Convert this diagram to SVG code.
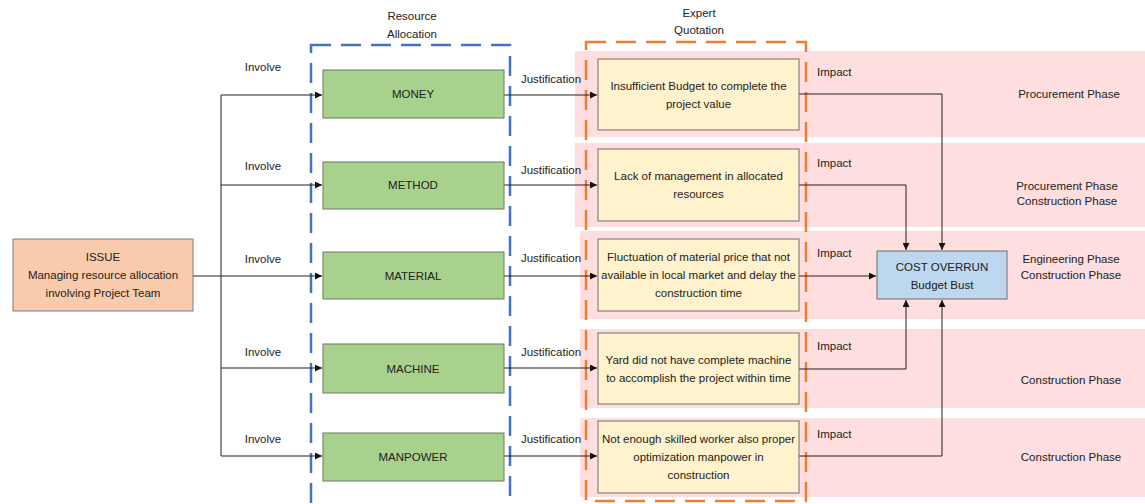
<svg xmlns="http://www.w3.org/2000/svg" width="1145" height="504" viewBox="0 0 1145 504">
<style>
text{font-family:"Liberation Sans",Arial,sans-serif;font-size:11.5px;fill:#222;}
.c{text-anchor:middle;}
.band{fill:#FEDEDF;stroke:none;}
.g{fill:#A9D18E;stroke:#6b7a63;stroke-width:1;}
.y{fill:#FFF2CC;stroke:#6f6f6f;stroke-width:1;}
.ln{fill:none;stroke:#222;stroke-width:1;}
</style>
<defs>
<marker id="ah" viewBox="0 0 10 10" refX="10" refY="5" markerWidth="7" markerHeight="7" markerUnits="userSpaceOnUse" orient="auto">
<path d="M0,0 L10,5 L0,10 z" fill="#111"/>
</marker>
</defs>
<rect width="1145" height="504" fill="#fff"/>
<g id="bands">
<rect class="band" x="575" y="51" width="570" height="86"/>
<rect class="band" x="575" y="143" width="570" height="84"/>
<rect class="band" x="580" y="231" width="565" height="88"/>
<rect class="band" x="580" y="329" width="565" height="79"/>
<rect class="band" x="580" y="418" width="565" height="79"/>
</g>
<g id="groups">
<rect x="586" y="42" width="220" height="459" fill="none" stroke="#ED7D31" stroke-width="2.5" stroke-dasharray="20,10"/>
<rect x="311" y="45" width="199" height="480" fill="none" stroke="#4472C4" stroke-width="2.5" stroke-dasharray="20,10"/>
<text class="c" x="412" y="20">Resource</text>
<text class="c" x="412" y="38">Allocation</text>
<text class="c" x="699" y="17">Expert</text>
<text class="c" x="699" y="34">Quotation</text>
</g>
<g id="connectors">
<path class="ln" d="M193,276 H221"/>
<path class="ln" d="M221,95 V456"/>
<path class="ln" d="M221,95 H322" marker-end="url(#ah)"/>
<path class="ln" d="M221,185 H322" marker-end="url(#ah)"/>
<path class="ln" d="M221,276 H322" marker-end="url(#ah)"/>
<path class="ln" d="M221,368 H322" marker-end="url(#ah)"/>
<path class="ln" d="M221,456 H322" marker-end="url(#ah)"/>
<path class="ln" d="M504,95 H597" marker-end="url(#ah)"/>
<path class="ln" d="M504,185 H597" marker-end="url(#ah)"/>
<path class="ln" d="M504,276 H597" marker-end="url(#ah)"/>
<path class="ln" d="M504,368 H597" marker-end="url(#ah)"/>
<path class="ln" d="M504,456 H597" marker-end="url(#ah)"/>
<path class="ln" d="M799,94 H942 V250" marker-end="url(#ah)"/>
<path class="ln" d="M799,185 H906 V250" marker-end="url(#ah)"/>
<path class="ln" d="M799,276 H876" marker-end="url(#ah)"/>
<path class="ln" d="M799,369 H906 V300" marker-end="url(#ah)"/>
<path class="ln" d="M799,456 H942 V300" marker-end="url(#ah)"/>
<text class="c" x="263" y="71">Involve</text>
<text class="c" x="263" y="170">Involve</text>
<text class="c" x="263" y="263">Involve</text>
<text class="c" x="263" y="356">Involve</text>
<text class="c" x="263" y="443">Involve</text>
<text class="c" x="551" y="83">Justification</text>
<text class="c" x="551" y="174">Justification</text>
<text class="c" x="551" y="262">Justification</text>
<text class="c" x="551" y="356">Justification</text>
<text class="c" x="551" y="443">Justification</text>
<text x="817" y="76">Impact</text>
<text x="817" y="167">Impact</text>
<text x="817" y="257">Impact</text>
<text x="817" y="350">Impact</text>
<text x="817" y="438">Impact</text>
</g>
<g id="issue">
<rect x="13" y="239" width="180" height="72" fill="#F8CBAD" stroke="#7f7f7f"/>
<text class="c" x="103" y="261">ISSUE</text>
<text class="c" x="103" y="279">Managing resource allocation</text>
<text class="c" x="103" y="297">involving Project Team</text>
</g>
<g id="money"><rect class="g" x="323" y="70" width="181" height="48"/><text class="c" x="413" y="98">MONEY</text></g>
<g id="method"><rect class="g" x="323" y="162" width="181" height="47"/><text class="c" x="413" y="189">METHOD</text></g>
<g id="material"><rect class="g" x="323" y="252" width="181" height="47"/><text class="c" x="413" y="280">MATERIAL</text></g>
<g id="machine"><rect class="g" x="323" y="344" width="181" height="49"/><text class="c" x="413" y="373">MACHINE</text></g>
<g id="manpower"><rect class="g" x="323" y="433" width="181" height="48"/><text class="c" x="413" y="461">MANPOWER</text></g>
<g id="q-money"><rect class="y" x="598" y="59" width="201" height="71"/>
<text class="c" x="698.5" y="90">Insufficient Budget to complete the</text>
<text class="c" x="698.5" y="108">project value</text></g>
<g id="q-method"><rect class="y" x="598" y="149" width="201" height="72"/>
<text class="c" x="698.5" y="180">Lack of management in allocated</text>
<text class="c" x="698.5" y="198">resources</text></g>
<g id="q-material"><rect class="y" x="598" y="239" width="201" height="72"/>
<text class="c" x="698.5" y="261">Fluctuation of material price that not</text>
<text class="c" x="698.5" y="279">available in local market and delay the</text>
<text class="c" x="698.5" y="297">construction time</text></g>
<g id="q-machine"><rect class="y" x="598" y="333" width="201" height="71"/>
<text class="c" x="698.5" y="364">Yard did not have complete machine</text>
<text class="c" x="698.5" y="382">to accomplish the project within time</text></g>
<g id="q-manpower"><rect class="y" x="598" y="421" width="201" height="72"/>
<text class="c" x="698.5" y="443">Not enough skilled worker also proper</text>
<text class="c" x="698.5" y="461">optimization manpower in</text>
<text class="c" x="698.5" y="479">construction</text></g>
<g id="cost-overrun"><rect x="877" y="251" width="130" height="48" fill="#BDD7EE" stroke="#6f6f6f"/>
<text class="c" x="942" y="271">COST OVERRUN</text>
<text class="c" x="942" y="289">Budget Bust</text></g>
<g id="phases">
<text class="c" x="1069" y="98">Procurement Phase</text>
<text class="c" x="1067" y="190">Procurement Phase</text>
<text class="c" x="1067" y="205">Construction Phase</text>
<text class="c" x="1071" y="263">Engineering Phase</text>
<text class="c" x="1071" y="279">Construction Phase</text>
<text class="c" x="1071" y="384">Construction Phase</text>
<text class="c" x="1071" y="461">Construction Phase</text>
</g>
</svg>
